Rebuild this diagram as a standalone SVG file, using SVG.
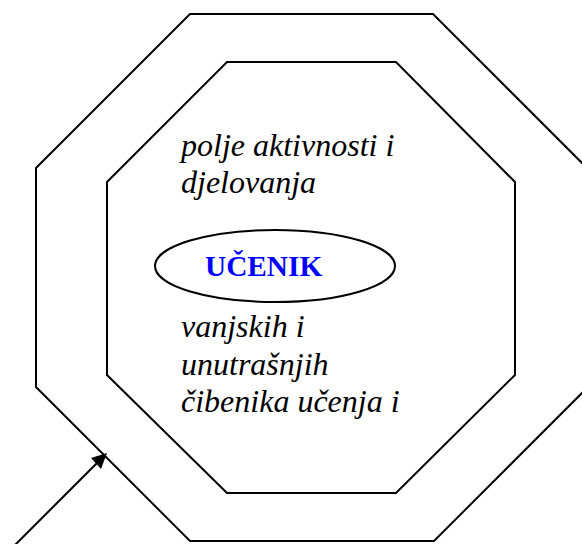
<svg xmlns="http://www.w3.org/2000/svg" width="582" height="544" viewBox="0 0 582 544">
<style>
.oct{fill:none;stroke:#000;stroke-width:2}
.lbl{font-family:"Liberation Serif","Times New Roman",serif;font-style:italic;font-size:32px;fill:#000}
.title{font-family:"Liberation Serif","Times New Roman",serif;font-weight:bold;font-size:29.3px;fill:#0000ff}
.conn{fill:none;stroke:#000;stroke-width:2}
.head{fill:#000;stroke:none}
</style>
<rect width="582" height="544" fill="#fff"/>
<g id="outer-octagon">
<polygon class="oct" points="190,14 433,14 610,191 610,365 434,541 190,541 36,387 36,168"/>
</g>
<g id="inner-octagon">
<polygon class="oct" points="227,62 396,62 515,182 515,375 396,493 227,493 107,375 107,182"/>
<text class="lbl" x="181" y="156">polje aktivnosti i</text>
<text class="lbl" x="181" y="193">djelovanja</text>
<text class="lbl" x="181" y="337">vanjskih i</text>
<text class="lbl" x="181" y="375">unutrašnjih</text>
<text class="lbl" x="181" y="412">čibenika učenja i</text>
</g>
<g id="ucenik">
<ellipse cx="275" cy="266" rx="120" ry="36" fill="#fff" stroke="#000" stroke-width="2"/>
<text class="title" x="205" y="276">UČENIK</text>
</g>
<g id="connectors">
<line class="conn" x1="15" y1="545" x2="97" y2="463"/>
<polygon class="head" points="107,453 101,469 91,458"/>
</g>
</svg>
